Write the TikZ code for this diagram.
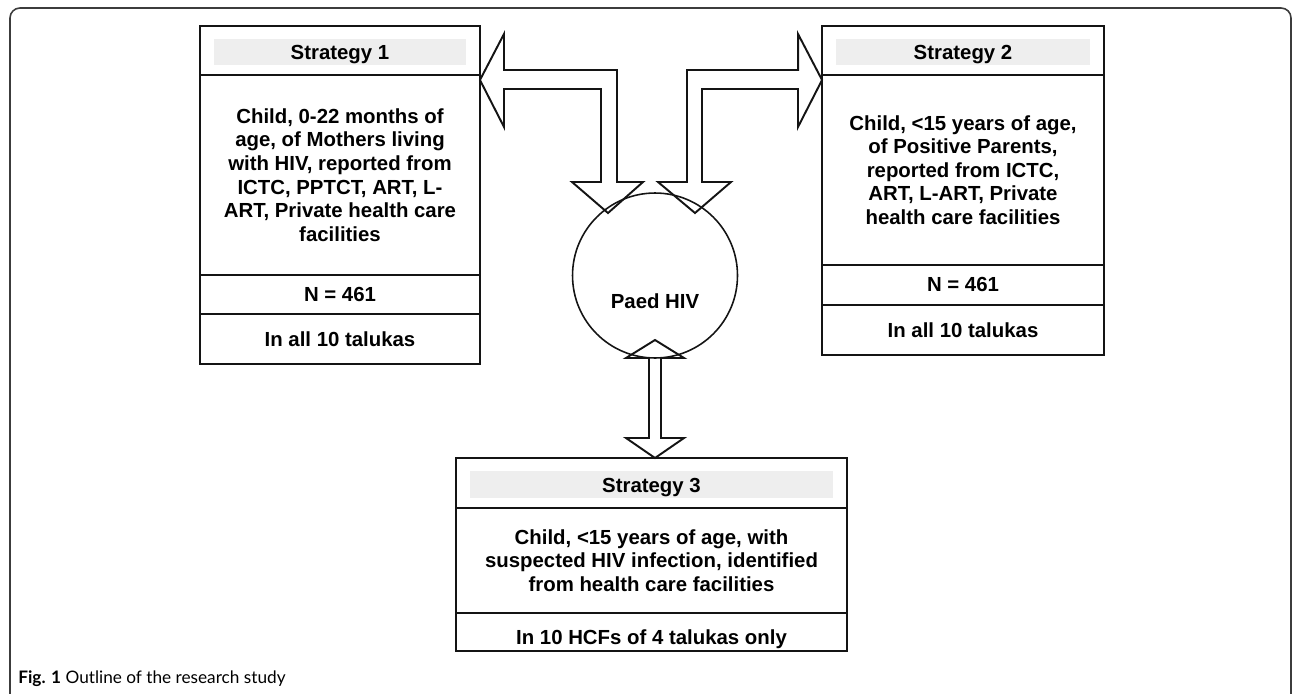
\documentclass[tikz,border=0pt]{standalone}
\usepackage{fontspec}
\setmainfont{Liberation Sans}
\newfontfamily\capfont{Lato}
\usetikzlibrary{positioning}
\definecolor{boxline}{RGB}{20,20,20}
\definecolor{bandgray}{RGB}{238,238,238}
\definecolor{framegray}{RGB}{60,60,60}
\tikzset{
  cell/.style={draw=boxline, line width=1.1pt, rectangle, outer sep=0pt, inner sep=2pt, align=center, font=\bfseries\fontsize{11.6}{13.4}\selectfont},
  headbox/.style={cell, minimum height=0.98cm, text height=0.38cm, text depth=0pt, path picture={\fill[bandgray] ([xshift=0.28cm,yshift=-0.26cm]path picture bounding box.north west) rectangle ([xshift=-0.28cm,yshift=0.2cm]path picture bounding box.south east);}},
  hollow/.style={draw=boxline, line width=1.1pt, line join=miter},
  frame/.style={draw=framegray, line width=0.9pt, rounded corners=0.2cm}
}

\begin{document}
\begin{tikzpicture}[x=0.02cm, y=-0.02cm]
  \clip (0,0) rectangle (1293,693);
  \draw[frame] (10,8) rectangle (1291,720);

  % strategy 1
  \node[headbox, minimum width=5.6cm] (s1head) at (340,50.5) {Strategy 1};
  \node[cell, minimum width=5.6cm, minimum height=4cm, below=0pt of s1head] (s1body) {Child, 0-22 months of\\age, of Mothers living\\with HIV, reported from\\ICTC, PPTCT, ART, L-\\ART, Private health care\\facilities};
  \node[cell, minimum width=5.6cm, minimum height=0.78cm, below=0pt of s1body] (s1n) {N = 461};
  \node[cell, minimum width=5.6cm, minimum height=1cm, below=0pt of s1n] (s1area) {In all 10 talukas};

  % strategy 2
  \node[headbox, minimum width=5.64cm] (s2head) at (963,50.5) {Strategy 2};
  \node[cell, minimum width=5.64cm, minimum height=3.8cm, below=0pt of s2head] (s2body) {Child, <15 years of age,\\of Positive Parents,\\reported from ICTC,\\ART, L-ART, Private\\health care facilities};
  \node[cell, minimum width=5.64cm, minimum height=0.8cm, below=0pt of s2body] (s2n) {N = 461};
  \node[cell, minimum width=5.64cm, minimum height=1cm, below=0pt of s2n] (s2area) {In all 10 talukas};

  % strategy 3
  \node[headbox, minimum width=7.82cm, minimum height=1cm] (s3head) at (651.5,483) {Strategy 3};
  \node[cell, minimum width=7.82cm, minimum height=2.1cm, below=0pt of s3head] (s3body) {Child, <15 years of age, with\\suspected HIV infection, identified\\from health care facilities};
  \node[cell, minimum width=7.82cm, minimum height=0.76cm, text height=0.5cm, text depth=0pt, below=0pt of s3body] (s3area) {In 10 HCFs of 4 talukas only};

  % centre
  \node[circle, draw=boxline, line width=0.9pt, minimum size=3.3cm] (paed) at (655,275.5) {};
  \node[font=\bfseries\fontsize{11.6}{13.4}\selectfont] (paedtext) at (655,301) {Paed HIV};

  % block arrows
  \draw[hollow] ([yshift=-0.1cm]s1head.south east) -- ++(24,-46) |- (617,70) -- (617,182) -- (643,182)
    -- (608,213) -- (572,182) -- (601,182) -- (601,89) -- (504,89) -- (504,127) -- cycle;
  \draw[hollow] ([yshift=-0.1cm]s2head.south west) -- ++(-24,-46) |- (687,70) -- (687,182) -- (658,182)
    -- (695,213) -- (731,182) -- (702,182) -- (702,89) -- (798,89) -- (798,127) -- cycle;
  \draw[hollow] ([xshift=0.07cm]s3head.north) -- (684,438) -- (661,438) -- (661,358) -- (684,358)
    -- (655,340) -- (626,358) -- (649,358) -- (649,438) -- (626,438) -- cycle;

  \node[anchor=west, inner sep=0pt, font=\capfont\fontsize{9.8}{11}\selectfont] (caption) at (18,679) {\textbf{Fig. 1} Outline of the research study};
\end{tikzpicture}
\end{document}
